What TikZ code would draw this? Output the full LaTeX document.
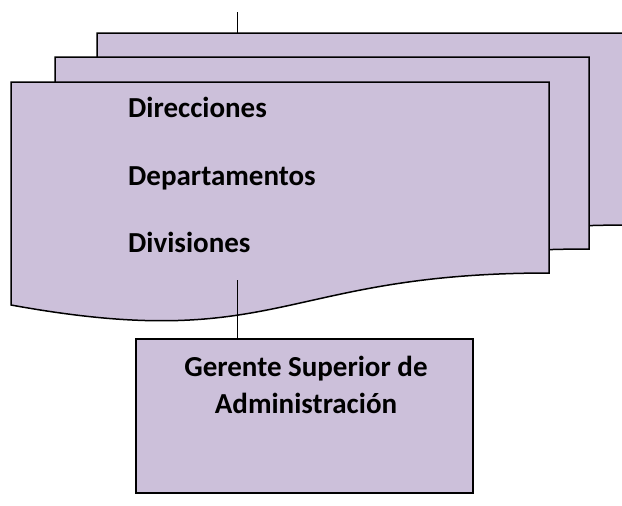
\documentclass[tikz,border=0pt]{standalone}
\usepackage{fontspec}
\setmainfont{Carlito}
\usetikzlibrary{positioning}
\definecolor{lila}{HTML}{CCC0DA}

\begin{document}
\begin{tikzpicture}[x=1pt, y=-1pt,
        doc/.style={fill=lila, draw=black, line width=1.5pt},
        gbox/.style={fill=lila, draw=black, line width=1.8pt, inner sep=0pt, anchor=north west, minimum width=337pt, minimum height=154pt},
        lbl/.style={font=\bfseries\fontsize{29}{37}\selectfont, inner sep=0pt, anchor=base west},
        link/.style={draw=black, line width=1pt}]
    \useasboundingbox (0,0) rectangle (622,506);

    % three stacked documents, back to front
    \filldraw[doc] (97,33) coordinate (back) -- (629,33) -- (629,225)
        .. controls (363,225) and (363,302) .. (97,256) -- cycle;
    \filldraw[doc] (55,57) -- (589,57) -- (589,249)
        .. controls (322,249) and (322,326) .. (55,280) -- cycle;
    \filldraw[doc] (11,82) -- (549,82) -- (549,273)
        .. controls (280,273) and (280,354) .. (11,305) -- cycle;

    \node[lbl] (dir) at (128,117) {Direcciones};
    \node[lbl] (dep) at (128,185) {Departamentos};
    \node[lbl] (div) at (128,252) {Divisiones};

    \node[gbox] (gerente) at (135,338) {};
    \node[font=\bfseries\fontsize{29}{37}\selectfont, align=center, inner sep=0pt, anchor=base] (gtxt) at (306,413) {Gerente Superior de\\Administración};

    \coordinate (top) at (237,12);
    \coordinate (lnk) at (237,280);

    \draw[link]
    (top) -- (top |- back)
    (lnk) -- (lnk |- gerente.north);
\end{tikzpicture}
\end{document}
